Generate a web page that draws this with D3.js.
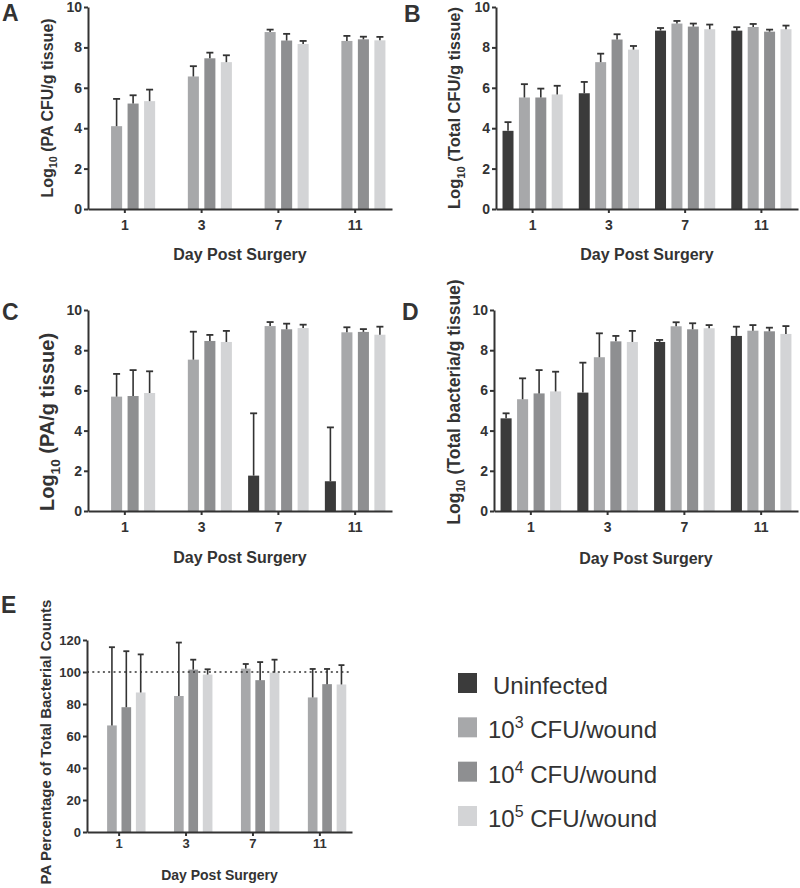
<!DOCTYPE html>
<html>
<head>
<meta charset="utf-8">
<script src="https://cdn.jsdelivr.net/npm/d3@7"></script>
<style>
  html, body { margin: 0; padding: 0; background: #fff; }
  svg { display: block; }
  text { font-family: "Liberation Sans", Arial, Helvetica, sans-serif; fill: #333; }
</style>
</head>
<body>
<svg id="chart" width="800" height="888"></svg>
<script>
// ---------------- data ----------------
const days = ["1", "3", "7", "11"];
const seriesLabels = ["Uninfected", "10|3| CFU/wound", "10|4| CFU/wound", "10|5| CFU/wound"];
const yTicksLog = [0, 2, 4, 6, 8, 10];
const yTicksPct = [0, 20, 40, 60, 80, 100, 120];

// Panel A: Log10 (PA CFU/g tissue) — series order: Uninfected, 10^3, 10^4, 10^5
const aMean = [
  [null, null, null, null],
  [4.10, 6.56, 8.76, 8.32],
  [5.22, 7.46, 8.34, 8.40],
  [5.34, 7.27, 8.17, 8.35]
];
const aErr = [
  [null, null, null, null],
  [1.35, 0.51, 0.12, 0.25],
  [0.41, 0.28, 0.33, 0.13],
  [0.57, 0.34, 0.15, 0.17]
];

// Panel B: Log10 (Total CFU/g tissue)
const bMean = [
  [3.87, 5.73, 8.83, 8.83],
  [5.52, 7.27, 9.18, 9.01],
  [5.52, 8.39, 9.03, 8.78],
  [5.67, 7.89, 8.90, 8.90]
];
const bErr = [
  [0.43, 0.56, 0.13, 0.17],
  [0.66, 0.42, 0.13, 0.15],
  [0.44, 0.26, 0.15, 0.10],
  [0.43, 0.18, 0.23, 0.18]
];

// Panel C: Log10 (PA/g tissue)
const cMean = [
  [null, null, 1.76, 1.48],
  [5.69, 7.53, 9.20, 8.89],
  [5.72, 8.46, 9.04, 8.91],
  [5.87, 8.41, 9.10, 8.77]
];
const cErr = [
  [null, null, 3.10, 2.68],
  [1.13, 1.39, 0.20, 0.25],
  [1.29, 0.30, 0.28, 0.14],
  [1.08, 0.55, 0.17, 0.40]
];

// Panel D: Log10 (Total bacteria/g tissue)
const dMean = [
  [4.61, 5.89, 8.41, 8.71],
  [5.56, 7.65, 9.19, 8.97],
  [5.85, 8.44, 9.04, 8.94],
  [5.95, 8.41, 9.09, 8.81]
];
const dErr = [
  [0.25, 1.49, 0.10, 0.46],
  [1.04, 1.19, 0.20, 0.28],
  [1.16, 0.27, 0.30, 0.18],
  [0.98, 0.55, 0.16, 0.39]
];

// Panel E: PA Percentage of Total Bacterial Counts
const eMean = [
  [null, null, null, null],
  [66.6, 85.0, 102.1, 84.1],
  [78.0, 101.5, 94.9, 92.4],
  [87.2, 98.4, 99.6, 92.2]
];
const eErr = [
  [null, null, null, null],
  [48.9, 33.4, 2.9, 17.8],
  [35.0, 6.2, 11.3, 9.5],
  [23.8, 3.3, 8.1, 12.1]
];
const eReference = 100;

// ---------------- styles ----------------
const colors = ["#3b3b3b", "#a7a8aa", "#8e8f91", "#d3d4d6"];
const ink = "#333";

const svg = d3.select("#chart");

function drawPanel(o) {
  const g = svg.append("g");
  const x0 = d3.scaleBand().domain(days).range([o.xL, o.xR])
    .paddingInner(0.14).paddingOuter(0.05);
  const x1 = d3.scaleBand().domain(d3.range(4)).range([0, x0.bandwidth()])
    .paddingInner(0.33).paddingOuter(0.165);
  const y = d3.scaleLinear().domain([0, o.yMax]).range([o.y0, o.yTop]);

  const recs = [];
  o.mean.forEach((ser, si) => ser.forEach((v, di) => {
    if (v == null) return;
    recs.push({ si, day: days[di], v, e: o.err[si][di] });
  }));

  g.selectAll("rect.bar").data(recs).join("rect")
    .attr("class", "bar")
    .attr("x", d => x0(d.day) + x1(d.si))
    .attr("y", d => y(d.v))
    .attr("width", x1.bandwidth())
    .attr("height", d => y(0) - y(d.v))
    .attr("fill", d => colors[d.si]);

  if (o.ref != null) {
    g.append("line")
      .attr("x1", o.xL).attr("x2", o.xR)
      .attr("y1", y(o.ref)).attr("y2", y(o.ref))
      .attr("stroke", ink).attr("stroke-width", 1.6)
      .attr("stroke-dasharray", "2,3.3");
  }

  const eb = g.selectAll("g.err").data(recs.filter(d => d.e != null)).join("g").attr("class", "err");
  eb.append("line")
    .attr("x1", d => x0(d.day) + x1(d.si) + x1.bandwidth() / 2)
    .attr("x2", d => x0(d.day) + x1(d.si) + x1.bandwidth() / 2)
    .attr("y1", d => y(d.v))
    .attr("y2", d => y(d.v + d.e))
    .attr("stroke", ink).attr("stroke-width", 1.6);
  eb.append("line")
    .attr("x1", d => x0(d.day) + x1(d.si) + x1.bandwidth() / 2 - o.cap)
    .attr("x2", d => x0(d.day) + x1(d.si) + x1.bandwidth() / 2 + o.cap)
    .attr("y1", d => y(d.v + d.e))
    .attr("y2", d => y(d.v + d.e))
    .attr("stroke", ink).attr("stroke-width", 1.8);

  // axes
  const ya = g.append("g").attr("transform", `translate(${o.xL},0)`)
    .call(d3.axisLeft(y).tickValues(o.ticks).tickSize(4).tickPadding(2).tickSizeOuter(0));
  const xa = g.append("g").attr("transform", `translate(0,${o.y0})`)
    .call(d3.axisBottom(x0).tickSize(4).tickPadding(o.xPad).tickSizeOuter(0));
  [ya, xa].forEach(a => {
    a.select(".domain").attr("stroke", ink).attr("stroke-width", 2);
    a.selectAll(".tick line").attr("stroke", ink).attr("stroke-width", 2);
    a.selectAll(".tick text")
      .attr("font-family", '"Liberation Sans", Arial, sans-serif')
      .attr("font-weight", "bold").attr("font-size", o.tickFs).attr("fill", ink);
  });

  // x title
  g.append("text").attr("x", (o.xL + o.xR) / 2).attr("y", o.xTitleY)
    .attr("text-anchor", "middle").attr("font-weight", "bold")
    .attr("font-size", o.xTitleFs).text("Day Post Surgery");

  // y title
  const yt = g.append("text")
    .attr("transform", `translate(${o.yTitleX},${o.yTitleY}) rotate(-90)`)
    .attr("text-anchor", "middle").attr("font-weight", "bold")
    .attr("font-size", o.yTitleFs);
  if (o.sub) {
    const fs = o.yTitleFs;
    yt.append("tspan").text("Log");
    yt.append("tspan").attr("font-size", fs * 0.68).attr("dy", fs * 0.28).text("10");
    yt.append("tspan").attr("dy", -fs * 0.28).text(" " + o.yTitle);
  } else {
    yt.text(o.yTitle);
  }

  // panel letter
  g.append("text").attr("x", o.lx).attr("y", o.ly)
    .attr("font-weight", "bold").attr("font-size", 23).text(o.letter);
}

drawPanel({ letter: "A", lx: 2, ly: 21, mean: aMean, err: aErr, yMax: 10, ticks: yTicksLog,
  xL: 88, xR: 392, y0: 209, yTop: 7, cap: 3.5, tickFs: 14, xPad: 7,
  xTitleY: 260, xTitleFs: 16, yTitleX: 53, yTitleY: 108, yTitleFs: 16, sub: true,
  yTitle: "(PA CFU/g tissue)" });

drawPanel({ letter: "B", lx: 404, ly: 22, mean: bMean, err: bErr, yMax: 10, ticks: yTicksLog,
  xL: 496, xR: 798, y0: 209, yTop: 7, cap: 3.5, tickFs: 14, xPad: 7,
  xTitleY: 260, xTitleFs: 16, yTitleX: 460, yTitleY: 108, yTitleFs: 16.5, sub: true,
  yTitle: "(Total CFU/g tissue)" });

drawPanel({ letter: "C", lx: 2, ly: 320, mean: cMean, err: cErr, yMax: 10, ticks: yTicksLog,
  xL: 88, xR: 392, y0: 511, yTop: 310, cap: 3.5, tickFs: 14, xPad: 7,
  xTitleY: 563, xTitleFs: 16, yTitleX: 54, yTitleY: 422, yTitleFs: 20, sub: true,
  yTitle: "(PA/g tissue)" });

drawPanel({ letter: "D", lx: 402, ly: 320, mean: dMean, err: dErr, yMax: 10, ticks: yTicksLog,
  xL: 494, xR: 798, y0: 511, yTop: 310, cap: 3.5, tickFs: 14, xPad: 7,
  xTitleY: 564, xTitleFs: 16, yTitleX: 460, yTitleY: 402, yTitleFs: 17.5, sub: true,
  yTitle: "(Total bacteria/g tissue)" });

drawPanel({ letter: "E", lx: 1, ly: 613, mean: eMean, err: eErr, yMax: 120, ticks: yTicksPct,
  xL: 87, xR: 352, y0: 832, yTop: 640, cap: 3, tickFs: 13, xPad: 3, ref: eReference,
  xTitleY: 880, xTitleFs: 14, yTitleX: 51, yTitleY: 742, yTitleFs: 15, sub: false,
  yTitle: "PA Percentage of Total Bacterial Counts" });

// ---------------- legend ----------------
const lg = svg.append("g");
const rowY = d3.scaleLinear().domain([0, 3]).range([673, 806]);
seriesLabels.forEach((lab, i) => {
  lg.append("rect").attr("x", 458).attr("y", rowY(i)).attr("width", 19).attr("height", 20)
    .attr("fill", colors[i]);
  const t = lg.append("text").attr("x", i === 0 ? 493 : 488).attr("y", rowY(i) + 21)
    .attr("font-size", 24).attr("fill", ink);
  const parts = lab.split("|");
  if (parts.length === 1) {
    t.text(lab);
  } else {
    t.append("tspan").text(parts[0]);
    t.append("tspan").attr("font-size", 16).attr("dy", -10).text(parts[1]);
    t.append("tspan").attr("dy", 10).text(parts[2]);
  }
});
</script>
</body>
</html>
